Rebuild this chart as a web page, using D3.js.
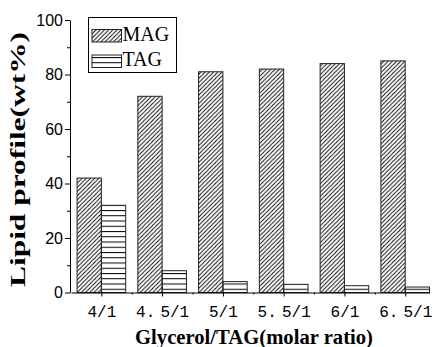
<!DOCTYPE html>
<html>
<head>
  <style>
    body { margin: 0; background: #fff; }
    .tick-label-y { font-family: "Liberation Sans", Arial, sans-serif; font-size: 16px; fill: #000; }
    .tick-label-x { font-family: "Liberation Mono", monospace; font-size: 16px; fill: #000; word-spacing: -4.5px; }
    .axis-title { font-family: "Liberation Serif", "Times New Roman", serif; font-weight: bold; font-size: 20px; fill: #000; }
    .legend-text { font-family: "Liberation Serif", "Times New Roman", serif; font-size: 20px; fill: #000; }
    .axis path, .axis line { stroke: #000; stroke-width: 1px; }
  </style>
  <script src="https://d3js.org/d3.v7.min.js"></script>
</head>
<body>
<div class="chart"></div>
<script>
const categories = ['4/1', '4. 5/1', '5/1', '5. 5/1', '6/1', '6. 5/1'];
const magValues = [42, 72, 81, 82, 84, 85];
const tagValues = [32, 8, 4, 3, 2.5, 2];
const yTicks = [0, 20, 40, 60, 80, 100];
const yMinorTicks = [10, 30, 50, 70, 90];
const seriesNames = ['MAG', 'TAG'];

const width = 435;
const height = 347;

const svg = d3.select('.chart')
  .append('svg')
  .attr('width', width)
  .attr('height', height);

// category index scale, 1..6, a little short on the right like the original
const x = d3.scaleLinear().domain([0.5, 6.4]).range([71, 429.5]);
const y = d3.scaleLinear().domain([0, 100]).range([292.5, 20]);
const barW = 0.4;

const defs = svg.append('defs');
defs.append('pattern')
  .attr('id', 'hatch-diag')
  .attr('patternUnits', 'userSpaceOnUse')
  .attr('width', 4.2)
  .attr('height', 4.2)
  .append('path')
    .attr('d', 'M-1,1 L1,-1 M0,4.2 L4.2,0 M3.2,5.2 L5.2,3.2')
    .attr('stroke', '#000')
    .attr('stroke-width', 0.9);

defs.append('pattern')
  .attr('id', 'hatch-horiz')
  .attr('patternUnits', 'userSpaceOnUse')
  .attr('width', 10)
  .attr('height', 5.25)
  .append('line')
    .attr('x1', 0).attr('x2', 10)
    .attr('y1', 0.5).attr('y2', 0.5)
    .attr('stroke', '#000')
    .attr('stroke-width', 1);

const fills = ['url(#hatch-diag)', 'url(#hatch-horiz)'];

// bars
const rows = categories.map((c, i) => ({ i: i + 1, mag: magValues[i], tag: tagValues[i] }));

svg.append('g')
  .selectAll('rect')
  .data(rows)
  .enter()
  .append('rect')
    .attr('x', d => x(d.i - barW))
    .attr('y', d => y(d.mag))
    .attr('width', d => x(d.i) - x(d.i - barW))
    .attr('height', d => y(0) - y(d.mag))
    .attr('fill', fills[0])
    .attr('stroke', '#222')
    .attr('stroke-width', 1);

svg.append('g')
  .selectAll('rect')
  .data(rows)
  .enter()
  .append('rect')
    .attr('x', d => x(d.i))
    .attr('y', d => y(d.tag))
    .attr('width', d => x(d.i + barW) - x(d.i))
    .attr('height', d => y(0) - y(d.tag))
    .attr('fill', fills[1])
    .attr('stroke', '#222')
    .attr('stroke-width', 1);

// axes
const xAxis = svg.append('g')
  .attr('class', 'axis')
  .attr('transform', `translate(0,${y(0)})`)
  .call(d3.axisBottom(x)
    .tickValues(d3.range(1, categories.length + 1))
    .tickFormat(i => categories[i - 1])
    .tickSize(4)
    .tickSizeOuter(0));
xAxis.selectAll('text')
  .attr('class', 'tick-label-x')
  .attr('font-family', null)
  .attr('font-size', null)
  .attr('dy', null)
  .attr('y', 24.5);

svg.append('g')
  .attr('class', 'axis')
  .attr('transform', `translate(0,${y(0)})`)
  .call(d3.axisBottom(x)
    .tickValues(d3.range(1, categories.length).map(v => v + 0.5))
    .tickFormat('')
    .tickSize(2)
    .tickSizeOuter(0))
  .call(g => g.select('.domain').remove());

const yAxis = svg.append('g')
  .attr('class', 'axis')
  .attr('transform', 'translate(70,0)')
  .call(d3.axisLeft(y)
    .tickValues(yTicks)
    .tickSize(5)
    .tickPadding(2)
    .tickSizeOuter(0));
yAxis.selectAll('text')
  .attr('class', 'tick-label-y')
  .attr('font-family', null)
  .attr('font-size', null);

svg.append('g')
  .attr('class', 'axis')
  .attr('transform', 'translate(70,0)')
  .call(d3.axisLeft(y)
    .tickValues(yMinorTicks)
    .tickFormat('')
    .tickSize(3)
    .tickSizeOuter(0))
  .call(g => g.select('.domain').remove());

// titles
svg.append('text')
  .attr('class', 'axis-title')
  .attr('x', 254)
  .attr('y', 344)
  .attr('text-anchor', 'middle')
  .attr('textLength', 238)
  .attr('lengthAdjust', 'spacingAndGlyphs')
  .text('Glycerol/TAG(molar ratio)');

svg.append('text')
  .attr('class', 'axis-title')
  .attr('transform', 'translate(25,159.5) rotate(-90)')
  .attr('text-anchor', 'middle')
  .attr('textLength', 255)
  .attr('lengthAdjust', 'spacingAndGlyphs')
  .text('Lipid profile(wt%)');

// legend
const legend = svg.append('g').attr('class', 'legend');
legend.append('rect')
  .attr('x', 88.5).attr('y', 17.5)
  .attr('width', 88).attr('height', 55)
  .attr('fill', '#fff')
  .attr('stroke', '#000');

legend.selectAll('g')
  .data(seriesNames)
  .enter()
  .append('g')
  .attr('transform', (d, i) => `translate(0, ${i * 25.5})`)
  .call(function(parent){
    parent.append('rect')
      .attr('x', 92).attr('y', 29.5)
      .attr('width', 29.5).attr('height', 12.5)
      .attr('fill', (d, i) => fills[i])
      .attr('stroke', '#222');
    parent.append('text')
      .attr('class', 'legend-text')
      .attr('x', 122.5)
      .attr('y', 40.5)
      .text(d => d);
  });
</script>
</body>
</html>
